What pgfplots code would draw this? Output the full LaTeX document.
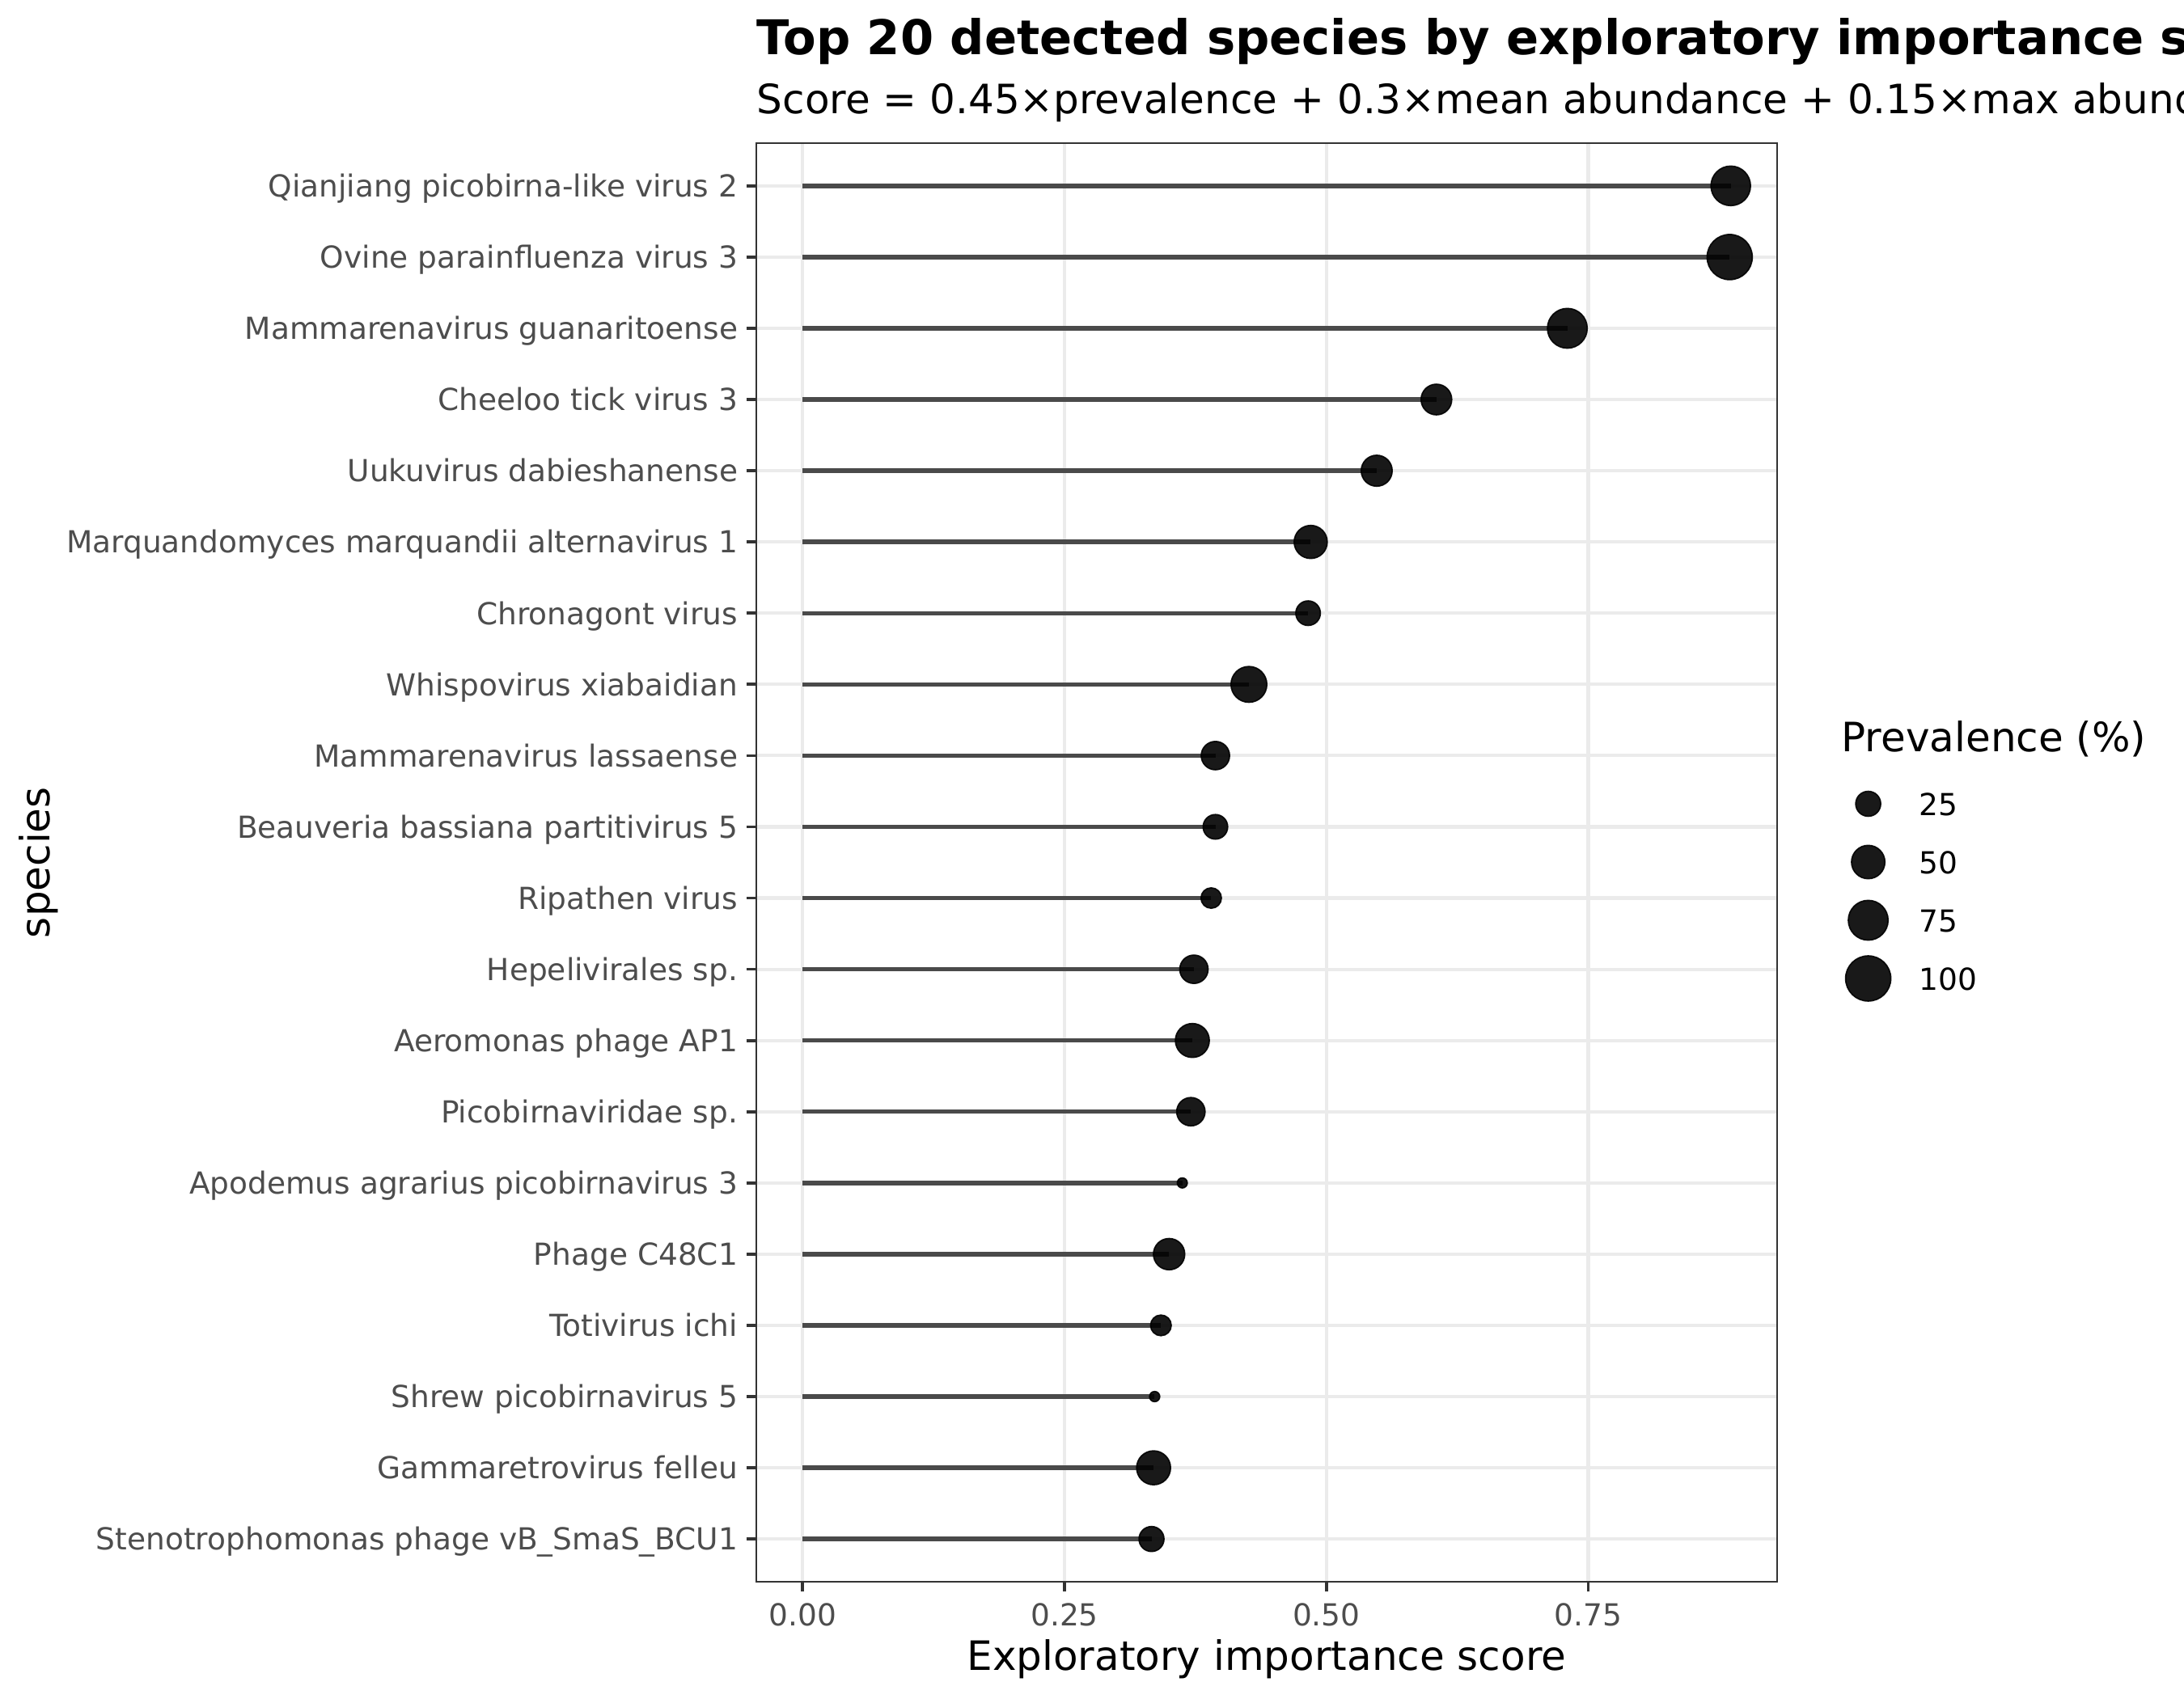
\documentclass[border=0pt]{standalone}
\usepackage{pgfplots}
\pgfplotsset{compat=1.18}
\usepackage{pgfplotstable}
\usepackage{fontspec}
\setmainfont{DejaVu Sans}
\definecolor{gtwenty}{HTML}{333333}
\definecolor{gthirty}{HTML}{4D4D4D}
\definecolor{gridc}{HTML}{EBEBEB}
\definecolor{segc}{HTML}{4A4A4A}

\pgfplotstableread{
pos score prev
20 0.886 74
19 0.885 100
18 0.730 75
17 0.605 41
16 0.548 42
15 0.485 49
14 0.4825 24
13 0.426 59
12 0.394 34
11 0.394 24
10 0.390 15
9 0.3735 34
8 0.372 52
7 0.3706 34
6 0.3624 1.7
5 0.3498 43
4 0.342 15.5
3 0.336 1.8
2 0.335 52
1 0.333 25
}\data

\pgfplotstableread{
x y prev
0 4 25
0 3 50
0 2 75
0 1 100
}\legdata

\begin{document}
\begin{tikzpicture}
\begin{axis}[
  at={(224.4pt,34.56pt)}, anchor=south west, scale only axis,
  width=302.88pt, height=426.96pt,
  xmin=-0.0443, xmax=0.9303, ymin=0.4, ymax=20.6,
  xtick={0,0.25,0.5,0.75}, xticklabels={0.00,0.25,0.50,0.75},
  ytick={1,2,...,20},
  yticklabels={Stenotrophomonas phage vB\_SmaS\_BCU1, Gammaretrovirus felleu, Shrew picobirnavirus 5, Totivirus ichi, Phage C48C1, Apodemus agrarius picobirnavirus 3, Picobirnaviridae sp., Aeromonas phage AP1, Hepelivirales sp., Ripathen virus, Beauveria bassiana partitivirus 5, Mammarenavirus lassaense, Whispovirus xiabaidian, Chronagont virus, Marquandomyces marquandii alternavirus 1, Uukuvirus dabieshanense, Cheeloo tick virus 3, Mammarenavirus guanaritoense, Ovine parainfluenza virus 3, Qianjiang picobirna-like virus 2},
  tick align=outside, xtick pos=left, ytick pos=left,
  major tick length=2.9pt,
  every tick/.style={gtwenty, line width=0.9pt},
  axis line style={gtwenty, line width=0.5pt},
  grid=major, major grid style={gridc, line width=1pt},
  ticklabel style={font=\fontsize{9}{10}\selectfont, text=gthirty, inner sep=0pt},
  xticklabel style={anchor=base, yshift=-10.26pt},
  yticklabel style={anchor=base east, xshift=-2.4pt, yshift=-3.3pt},
]
\addplot[xcomb, segc, line width=1.3pt, mark=none] table[x=score, y=pos] {\data};
\addplot[scatter, only marks, mark=*,
  scatter/use mapped color={draw=black, fill=black, fill opacity=0.9, draw opacity=0.9},
  visualization depends on={0.71+0.6*sqrt(\thisrow{prev}) \as \rr},
  scatter/@pre marker code/.append style={/tikz/mark size=\rr pt, /tikz/fill opacity=0.9, /tikz/draw opacity=0.9, /tikz/line width=0.5pt},
] table[x=score, y=pos] {\data};
\end{axis}

\begin{axis}[
  at={(544.3pt,204.96pt)}, anchor=south west, scale only axis,
  width=20pt, height=69.12pt,
  xmin=-1, xmax=1, ymin=0.5, ymax=4.5, hide axis, clip=false,
]
\addplot[scatter, only marks, mark=*,
  scatter/use mapped color={draw=black, fill=black, fill opacity=0.9, draw opacity=0.9},
  visualization depends on={0.71+0.6*sqrt(\thisrow{prev}) \as \rr},
  scatter/@pre marker code/.append style={/tikz/mark size=\rr pt, /tikz/fill opacity=0.9, /tikz/draw opacity=0.9, /tikz/line width=0.5pt},
] table[x=x, y=y] {\legdata};
\node[anchor=base west, inner sep=0pt, xshift=14.9pt, yshift=-3.6pt, font=\fontsize{9}{10}\selectfont] at (axis cs:0,4) {25};
\node[anchor=base west, inner sep=0pt, xshift=14.9pt, yshift=-3.6pt, font=\fontsize{9}{10}\selectfont] at (axis cs:0,3) {50};
\node[anchor=base west, inner sep=0pt, xshift=14.9pt, yshift=-3.6pt, font=\fontsize{9}{10}\selectfont] at (axis cs:0,2) {75};
\node[anchor=base west, inner sep=0pt, xshift=14.9pt, yshift=-3.6pt, font=\fontsize{9}{10}\selectfont] at (axis cs:0,1) {100};
\end{axis}

\node[anchor=base west, inner sep=0pt, font=\fontsize{12}{14}\selectfont] at (546.2pt,280.8pt) {Prevalence (\%)};
\node[anchor=base, inner sep=0pt, font=\fontsize{12}{14}\selectfont] at (375.8pt,8.4pt) {Exploratory importance score};
\node[anchor=base, rotate=90, inner sep=0pt, font=\fontsize{12}{14}\selectfont] at (14.8pt,248.0pt) {species};
\node[anchor=base west, inner sep=0pt, font=\fontsize{14.2}{16}\selectfont\bfseries] at (224.4pt,487.7pt) {Top 20 detected species by exploratory importance score};
\node[anchor=base west, inner sep=0pt, font=\fontsize{12}{14}\selectfont] at (224.4pt,470.2pt) {Score = 0.45×prevalence + 0.3×mean abundance + 0.15×max abundance};

\pgfresetboundingbox
\useasboundingbox (0,0) rectangle (648pt,504pt);
\end{tikzpicture}
\end{document}
